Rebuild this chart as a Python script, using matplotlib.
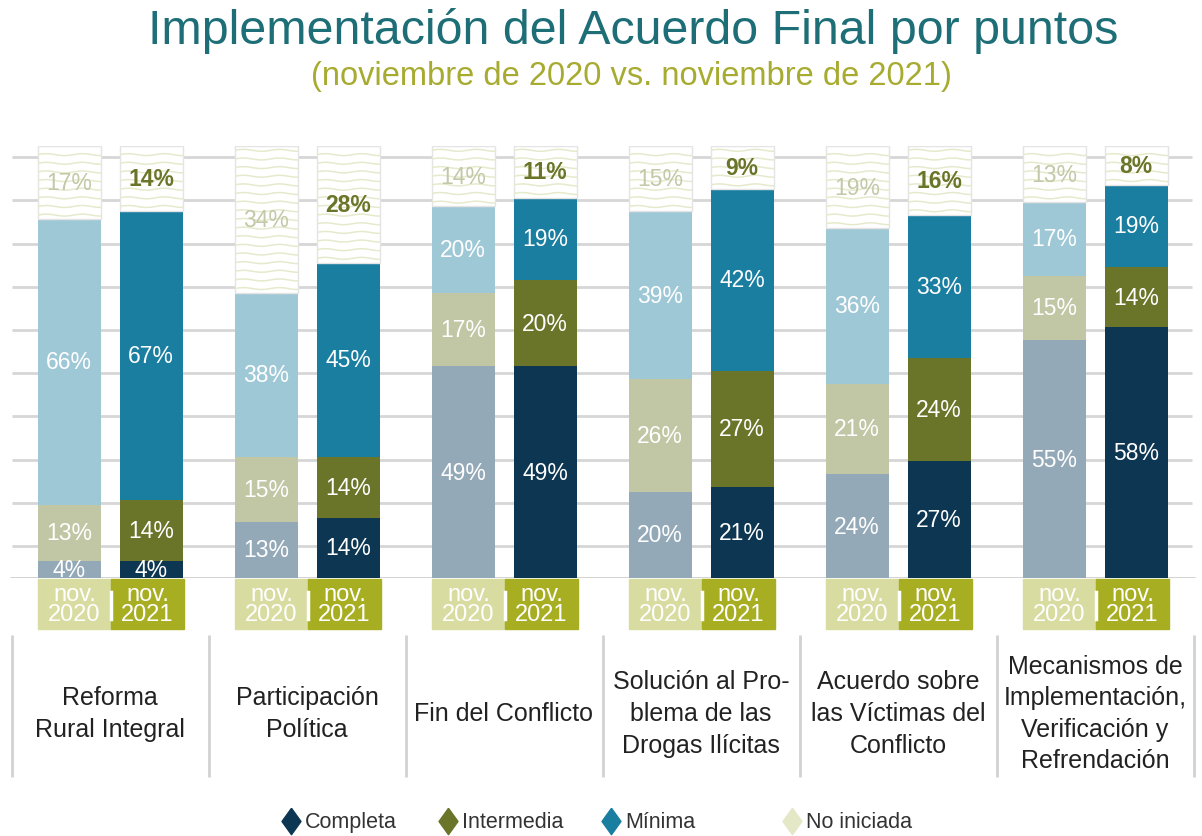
"""Implementación del Acuerdo Final por puntos: stacked bars, nov 2020 vs nov 2021."""

import matplotlib.pyplot as plt
import numpy as np
from matplotlib.patches import Rectangle

plt.rcParams["font.family"] = ["Liberation Sans", "DejaVu Sans"]

categories = [
    "Reforma\nRural Integral",
    "Participación\nPolítica",
    "Fin del Conflicto",
    "Solución al Pro-\nblema de las\nDrogas Ilícitas",
    "Acuerdo sobre\nlas Víctimas del\nConflicto",
    "Mecanismos de\nImplementación,\nVerificación y\nRefrendación",
]
year_labels = ["nov.\n2020", "nov.\n2021"]
levels = ["Completa", "Intermedia", "Mínima", "No iniciada"]

completa_2020 = [4, 13, 49, 20, 24, 55]
intermedia_2020 = [13, 15, 17, 26, 21, 15]
minima_2020 = [66, 38, 20, 39, 36, 17]
no_iniciada_2020 = [17, 34, 14, 15, 19, 13]

completa_2021 = [4, 14, 49, 21, 27, 58]
intermedia_2021 = [14, 14, 20, 27, 24, 14]
minima_2021 = [67, 45, 19, 42, 33, 19]
no_iniciada_2021 = [14, 28, 11, 9, 16, 8]

# styles
colors_2020 = ["#94a9b8", "#c1c6a4", "#9fc8d6"]
colors_2021 = ["#0c3651", "#6b7529", "#1a7ea1"]
legend_colors = ["#0c3651", "#6b7529", "#1a7ea1", "#e4e8c6"]
text_none = ["#c3c8a8", "#6b7529"]
box_colors = ["#d8dca0", "#a8ae22"]
wave_color = "#e6eacc"
grid_color = "#d6d6d6"

W, H = 1202, 837
BASE_PX, TOP_PX = 579, 147
PX = (BASE_PX - TOP_PX) / 100.0  # pixels per percent

fig = plt.figure(figsize=(W / 100, H / 100), dpi=100)
ax = fig.add_axes([0, (H - BASE_PX) / H, 1, (BASE_PX - TOP_PX) / H])
ax.set_xlim(0, W)
ax.set_ylim(0, 100)
ax.axis("off")


def py(pixel_y):
    """Figure pixel row -> data y."""
    return (BASE_PX - pixel_y) / PX


# grid
ax.hlines(np.arange(7.4, 100, 10), 12, 1192, color=grid_color, lw=2, zorder=0)
ax.hlines(0, 10, 1195, color="#cfcfcf", lw=2, zorder=0)

centers = 110 + 197 * np.arange(len(categories))
bar_w = 63


def wavy_box(x0, y0, w, h, zorder=3):
    rect = Rectangle((x0, y0), w, h, facecolor="white", edgecolor="#e4e4e4",
                     lw=1, zorder=zorder)
    ax.add_patch(rect)
    xs = np.linspace(x0, x0 + w, 60)
    for yy in np.arange(y0 + 1.0, y0 + h, 2.0):
        ln, = ax.plot(xs, yy + 0.22 * np.sin((xs - x0) / 36 * 2 * np.pi),
                      color=wave_color, lw=1.1, zorder=zorder + 0.1)
        ln.set_clip_path(rect)


data = [
    (completa_2020, intermedia_2020, minima_2020, no_iniciada_2020, colors_2020),
    (completa_2021, intermedia_2021, minima_2021, no_iniciada_2021, colors_2021),
]

for j, (comp, inter, mini, none, cols) in enumerate(data):
    xs = centers + (-41 if j == 0 else 41)
    bottom = np.zeros(len(categories))
    for vals, c in zip([comp, inter, mini], cols):
        vals = np.array(vals, dtype=float)
        ax.bar(xs, vals, bottom=bottom, width=bar_w, color=c, zorder=2)
        for x, b, v in zip(xs, bottom, vals):
            ax.text(x, b + v / 2, f"{v:.0f}%", ha="center", va="center",
                    color="white", fontsize=16.5, zorder=5)
        bottom += vals
    for x, b, v in zip(xs, bottom, none):
        h = 100 - b
        wavy_box(x - bar_w / 2, b, bar_w, h)
        ax.text(x, b + h / 2, f"{v}%", ha="center", va="center",
                color=text_none[j], fontsize=16.5,
                fontweight="normal" if j == 0 else "bold", zorder=5)

# year boxes and category labels
for c, name in zip(centers, categories):
    left = c - 72
    mid = c + 1
    ax.add_patch(Rectangle((left, py(630)), mid - left, py(BASE_PX + 1) - py(630),
                           color=box_colors[0], clip_on=False, zorder=2))
    ax.add_patch(Rectangle((mid, py(630)), 73, py(BASE_PX + 1) - py(630),
                           color=box_colors[1], clip_on=False, zorder=2))
    ax.plot([mid, mid], [py(593), py(620)], color="white", lw=2.5,
            clip_on=False, zorder=3)
    for k, xx in enumerate([(left + mid) / 2, mid + 36.5]):
        ax.text(xx, py(605), year_labels[k], ha="center", va="center",
                color="white", fontsize=17, linespacing=0.88, clip_on=False,
                zorder=4)
    ax.text(c, py(714), name, ha="center", va="center", fontsize=18,
            color="#222222", linespacing=1.4, clip_on=False)

seps = np.append(centers - 98.5, centers[-1] + 98.5)
ax.vlines(seps, py(778), py(636), color="#d2d2d2", lw=2, clip_on=False)

# legend
diamond = [(0, 1), (0.72, 0), (0, -1), (-0.72, 0), (0, 1)]
legend_x = [291, 448, 611, 792]
for lx, lab, col in zip(legend_x, levels, legend_colors):
    ax.plot([lx], [py(822)], marker=diamond, markersize=19, color=col,
            clip_on=False, linestyle="none")
    ax.text(lx + 14, py(823), lab, ha="left", va="center", fontsize=15.5,
            color="#333333", clip_on=False)

# titles
fig.text(633 / W, 1 - 31 / H, "Implementación del Acuerdo Final por puntos",
         ha="center", va="center", fontsize=34.8, color="#1d6e76")
fig.text(631 / W, 1 - 76 / H, "(noviembre de 2020 vs. noviembre de 2021)",
         ha="center", va="center", fontsize=23.5, color="#a7ab30")

fig.savefig("out.png", dpi=100)
